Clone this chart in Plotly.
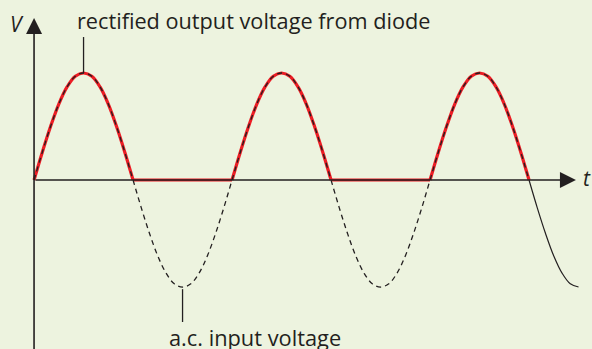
import plotly.graph_objects as go

# a.c. supply sampled every 24th of a period (t in periods, V relative to peak)
t = [0, 0.0417, 0.0833, 0.125, 0.1667, 0.2083, 0.25, 0.2917, 0.3333, 0.375, 0.4167, 0.4583,
     0.5, 0.5417, 0.5833, 0.625, 0.6667, 0.7083, 0.75, 0.7917, 0.8333, 0.875, 0.9167, 0.9583,
     1.0, 1.0417, 1.0833, 1.125, 1.1667, 1.2083, 1.25, 1.2917, 1.3333, 1.375, 1.4167, 1.4583,
     1.5, 1.5417, 1.5833, 1.625, 1.6667, 1.7083, 1.75, 1.7917, 1.8333, 1.875, 1.9167, 1.9583,
     2.0, 2.0417, 2.0833, 2.125, 2.1667, 2.2083, 2.25, 2.2917, 2.3333, 2.375, 2.4167, 2.4583,
     2.5, 2.5417, 2.5833, 2.625, 2.6667, 2.7083, 2.75]
v_in = [0, 0.26, 0.5, 0.71, 0.87, 0.97, 1, 0.97, 0.87, 0.71, 0.5, 0.26,
        0, -0.26, -0.5, -0.71, -0.87, -0.97, -1, -0.97, -0.87, -0.71, -0.5, -0.26,
        0, 0.26, 0.5, 0.71, 0.87, 0.97, 1, 0.97, 0.87, 0.71, 0.5, 0.26,
        0, -0.26, -0.5, -0.71, -0.87, -0.97, -1, -0.97, -0.87, -0.71, -0.5, -0.26,
        0, 0.26, 0.5, 0.71, 0.87, 0.97, 1, 0.97, 0.87, 0.71, 0.5, 0.26,
        0, -0.26, -0.5, -0.71, -0.87, -0.97, -1]
# the diode passes only the positive half-cycles
v_out = [max(v, 0.0) for v in v_in]

HALF = 12           # samples per half-cycle
N_RECTIFIED = 5     # half-cycles drawn for the output (three humps, two flats)
RED = "#ec1c24"
INK = "#231f20"
BG = "#edf3df"

fig = go.Figure()

# rectified output: curved humps and flat zero stretches
for k in range(N_RECTIFIED):
    seg = slice(k * HALF, k * HALF + HALF + 1)
    positive = k % 2 == 0
    fig.add_trace(go.Scatter(
        x=t[seg], y=v_out[seg], mode="lines",
        line=dict(color=RED, width=3.2,
                  shape="spline" if positive else "linear", smoothing=1.0),
        hoverinfo="skip", showlegend=False))

# a.c. input: dashed while the output is shown, solid on the last quarter
split = N_RECTIFIED * HALF
fig.add_trace(go.Scatter(
    x=t[:split + 1], y=v_in[:split + 1], mode="lines",
    line=dict(color=INK, width=1.3, dash="5px,4px", shape="spline", smoothing=1.0),
    hoverinfo="skip", showlegend=False))
fig.add_trace(go.Scatter(
    x=t[split:], y=v_in[split:], mode="lines",
    line=dict(color=INK, width=1.2, shape="spline", smoothing=1.0),
    hoverinfo="skip", showlegend=False))

X_RANGE = [-0.172, 2.818]
Y_RANGE = [-1.579, 1.682]

# axes with arrowheads
fig.add_annotation(x=2.737, y=0, ax=0, ay=0, xref="x", yref="y", axref="x", ayref="y",
                   text="", showarrow=True, arrowhead=2, arrowsize=2.0, arrowwidth=1.6,
                   arrowcolor=INK, standoff=0)
fig.add_annotation(x=0, y=1.514, ax=0, ay=-1.75, xref="x", yref="y", axref="x", ayref="y",
                   text="", showarrow=True, arrowhead=2, arrowsize=2.0, arrowwidth=1.6,
                   arrowcolor=INK, standoff=0)

# callout lines
peak_t = t[6]
trough_t = t[18]
fig.add_shape(type="line", x0=peak_t, x1=peak_t, y0=1.0, y1=1.336,
              line=dict(color=INK, width=1.3))
fig.add_shape(type="line", x0=trough_t, x1=trough_t, y0=-1.02, y1=-1.327,
              line=dict(color=INK, width=1.3))

FONT = "Open Sans, Noto Sans, sans-serif"
fig.add_annotation(x=75 / 592, y=1 - 20 / 349, xref="paper", yref="paper",
                   text="rectified output voltage from diode", showarrow=False,
                   xanchor="left", yanchor="middle",
                   font=dict(family=FONT, size=21.7, color=INK))
fig.add_annotation(x=167 / 592, y=1 - 337 / 349, xref="paper", yref="paper",
                   text="a.c. input voltage", showarrow=False,
                   xanchor="left", yanchor="middle",
                   font=dict(family=FONT, size=21.8, color=INK))
fig.add_annotation(x=17 / 592, y=1 - 24 / 349, xref="paper", yref="paper",
                   text="<i>V</i>", showarrow=False,
                   xanchor="center", yanchor="middle",
                   font=dict(family=FONT, size=21, color=INK))
fig.add_annotation(x=587 / 592, y=1 - 178 / 349, xref="paper", yref="paper",
                   text="<i>t</i>", showarrow=False,
                   xanchor="center", yanchor="middle",
                   font=dict(family=FONT, size=21, color=INK))

fig.update_xaxes(range=X_RANGE, visible=False, fixedrange=True)
fig.update_yaxes(range=Y_RANGE, visible=False, fixedrange=True)
fig.update_layout(width=592, height=349, margin=dict(l=0, r=0, t=0, b=0),
                  paper_bgcolor=BG, plot_bgcolor=BG)

fig.write_html("out.html")
